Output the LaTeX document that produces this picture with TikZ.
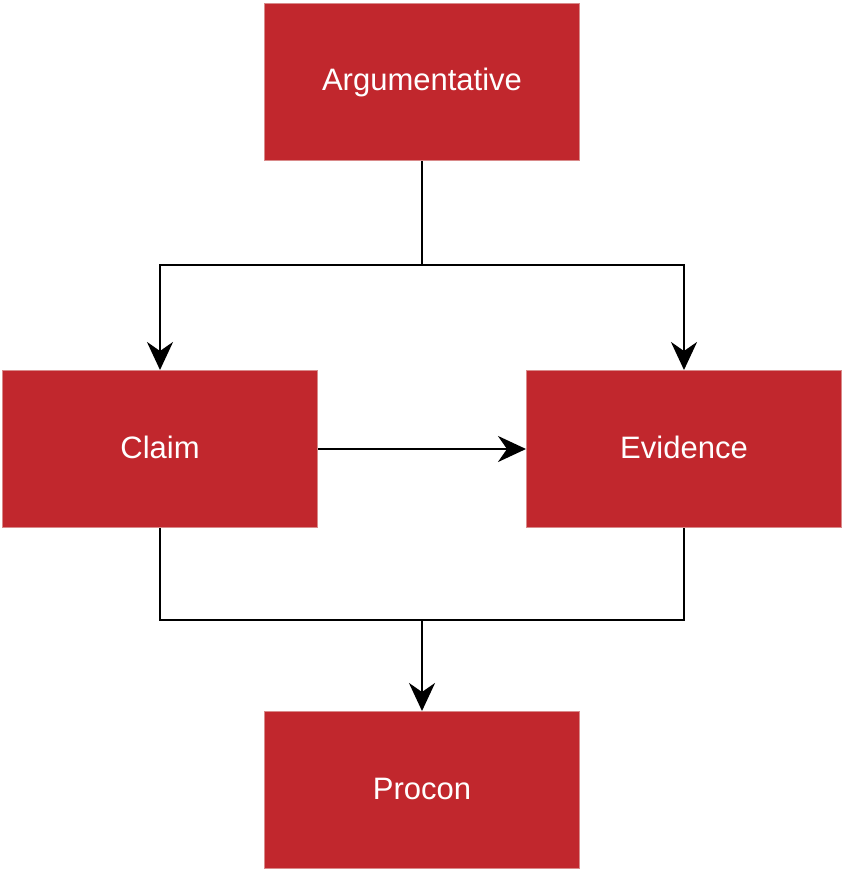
\documentclass[tikz,border=0pt]{standalone}
\usepackage{fontspec}
\setmainfont{Liberation Sans}
\usetikzlibrary{arrows.meta}
\definecolor{boxred}{HTML}{C1272D}
\definecolor{boxedge}{HTML}{D98A8A}
\begin{document}
\begin{tikzpicture}[x=1pt,y=-1pt,
  box/.style={rectangle, fill=boxred, draw=boxedge, line width=1pt, minimum width=315pt, minimum height=157pt, inner sep=0pt, text=white, font=\fontsize{31}{36}\selectfont},
  conn/.style={draw=black, line width=2.6pt},
  arr/.style={conn, -{Stealth[length=28pt, width=26pt, inset=9pt]}}]
\useasboundingbox (0,0) rectangle (842,871);
\node[box] (arg) at (422,82) {\raisebox{3pt}{Argumentative}};
\node[box] (claim) at (160,449) {\raisebox{3pt}{Claim}};
\node[box] (evid) at (684,449) {\raisebox{3pt}{Evidence}};
\node[box] (procon) at (422,790) {\raisebox{3pt}{Procon}};
\coordinate (split) at (422,265);
\coordinate (merge) at (422,620);
\draw[conn] (arg.south) -- (split);
\draw[arr] (split) -| (claim.north);
\draw[arr] (split) -| (evid.north);
\draw[arr] (claim.east) -- (evid.west);
\draw[conn] (claim.south) |- (merge);
\draw[conn] (evid.south) |- (merge);
\draw[arr] (merge) -- (procon.north);
\end{tikzpicture}
\end{document}
